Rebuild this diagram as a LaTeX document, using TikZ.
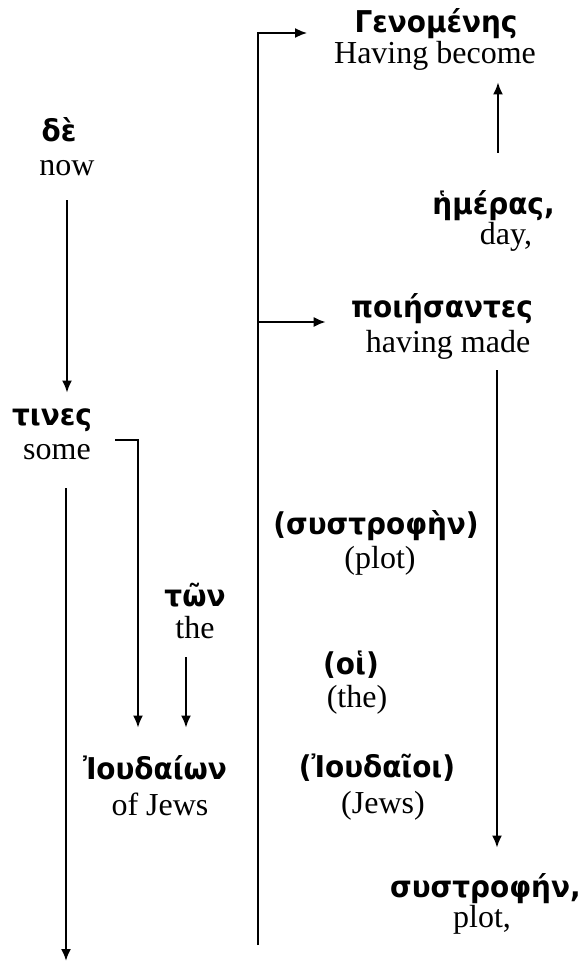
\documentclass[tikz,border=0pt]{standalone}
\usepackage{fontspec}
\setmainfont{Liberation Serif}
\newfontfamily\grkfont{DejaVu Sans}[FakeStretch=0.93]
\usetikzlibrary{arrows.meta, positioning}
\tikzset{
  gr/.style={font={\grkfont\bfseries\fontsize{15}{18}\selectfont}, inner sep=0pt, text height=12pt, text depth=3pt},
  en/.style={font={\fontsize{16}{18}\selectfont}, inner sep=0pt, text height=11pt, text depth=4pt},
  arr/.style={-{Latex[length=6pt,width=5pt]}, line width=1pt}
}

\begin{document}
\begin{tikzpicture}[x=0.5pt, y=-0.5pt]
    \useasboundingbox (0,0) rectangle (584,963);

    % left column
    \node[gr] (de) at (59, 132) {δὲ};
    \node[en] (deE) at (67, 168) {now};
    \node[gr] (tines) at (52, 416) {τινες};
    \node[en] (tinesE) at (57, 452) {some};
    \node[gr] (ton) at (195, 597) {τῶν};
    \node[en] (tonE) at (195, 631) {the};
    \node[gr] (iou) at (155, 770) {Ἰουδαίων};
    \node[en] (iouE) at (160, 808) {of Jews};

    % right column
    \node[gr] (gen) at (436, 24) {Γενομένης};
    \node[en] (genE) at (435, 57) {Having become};
    \node[gr, anchor=east] (hem) at (555, 205) {ἡμέρας,};
    \node[en] (hemE) at (506, 237) {day,};
    \node[gr] (poi) at (442, 308) {ποιήσαντες};
    \node[en] (poiE) at (448, 345) {having made};
    \node[gr] (sys) at (376, 525) {(συστροφὴν)};
    \node[en] (sysE) at (380, 561) {(plot)};
    \node[gr] (hoi) at (351, 665) {(οἱ)};
    \node[en] (hoiE) at (357, 700) {(the)};
    \node[gr] (iouii) at (377, 768) {(Ἰουδαῖοι)};
    \node[en] (iouiiE) at (383, 806) {(Jews)};
    \node[gr, anchor=east] (sysii) at (581, 888) {συστροφήν,};
    \node[en] (sysiiE) at (482, 920) {plot,};

    \coordinate (low) at (66, 961);
    \coordinate (spine) at (258, 945);

    \draw[arr, shorten <=8.5pt, shorten >=4pt] (deE.south) -- (deE.south |- tines.north);
    \draw[arr, shorten >=13.5pt] ([shift={(12pt,6pt)}]tinesE.east) -| ([xshift=-8.5pt]iou.north);
    \draw[arr, shorten <=10.5pt] ([xshift=4.5pt]tinesE.south) -- (low);
    \draw[arr, shorten <=5.5pt, shorten >=13.5pt] ([xshift=-4.5pt]tonE.south) -- ([xshift=-4.5pt]tonE.south |- iou.north);

    \draw[arr, shorten >=23.5pt] (spine) |- ([yshift=-4.5pt]gen.west);
    \draw[arr, shorten >=12.5pt] ([yshift=-7pt]poi.west -| spine) -- ([yshift=-7pt]poi.west);
    \draw[arr, shorten <=18.5pt, shorten >=5pt] ([xshift=-4pt]hemE.north |- hem.north) -- ([xshift=-4pt]hemE.north |- genE.south);
    \draw[arr, shorten <=5pt, shorten >=12.5pt] ([xshift=24.5pt]poiE.south) -- ([xshift=24.5pt]poiE.south |- sysii.north);
\end{tikzpicture}
\end{document}
